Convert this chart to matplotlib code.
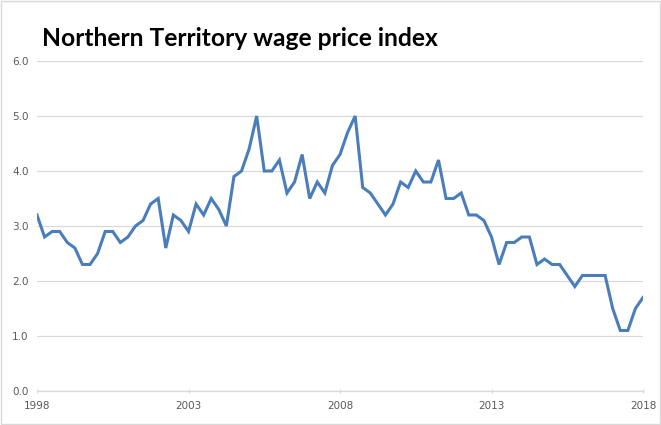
import numpy as np
import matplotlib
matplotlib.use("Agg")
import matplotlib.pyplot as plt
from matplotlib.patches import Rectangle

# quarterly values, 1998 Q1 .. 2018 Q1
wpi = [3.2, 2.8, 2.9, 2.9,
       2.7, 2.6, 2.3, 2.3,
       2.5, 2.9, 2.9, 2.7,
       2.8, 3.0, 3.1, 3.4,
       3.5, 2.6, 3.2, 3.1,
       2.9, 3.4, 3.2, 3.5,
       3.3, 3.0, 3.9, 4.0,
       4.4, 5.0, 4.0, 4.0,
       4.2, 3.6, 3.8, 4.3,
       3.5, 3.8, 3.6, 4.1,
       4.3, 4.7, 5.0, 3.7,
       3.6, 3.4, 3.2, 3.4,
       3.8, 3.7, 4.0, 3.8,
       3.8, 4.2, 3.5, 3.5,
       3.6, 3.2, 3.2, 3.1,
       2.8, 2.3, 2.7, 2.7,
       2.8, 2.8, 2.3, 2.4,
       2.3, 2.3, 2.1, 1.9,
       2.1, 2.1, 2.1, 2.1,
       1.5, 1.1, 1.1, 1.5,
       1.7]
year_labels = ["1998", "2003", "2008", "2013", "2018"]
y_ticks = [0.0, 1.0, 2.0, 3.0, 4.0, 5.0, 6.0]

idx = np.arange(len(wpi))

fig = plt.figure(figsize=(6.61, 4.25), dpi=100)
ax = fig.add_axes([37 / 661, 1 - 391 / 425, 606 / 661, 330 / 425])

ax.plot(idx, wpi, color="#4A7EBB", lw=2.2, solid_joinstyle="miter")

ax.set_xlim(0, len(wpi) - 1)
ax.set_ylim(0, 6)
ax.set_yticks(y_ticks)
ax.set_yticklabels([f"{v:.1f}" for v in y_ticks])
ax.set_xticks(idx[::20])
ax.set_xticklabels(year_labels)

ax.grid(axis="y", color="#D9D9D9", lw=0.9)
ax.set_axisbelow(True)
for s in ["top", "right", "left"]:
    ax.spines[s].set_visible(False)
ax.spines["bottom"].set_color("#D9D9D9")
ax.spines["bottom"].set_linewidth(0.9)
ax.tick_params(axis="y", length=0, pad=6, labelsize=7.5, labelcolor="#595959")
ax.tick_params(axis="x", length=3, direction="inout", color="#D9D9D9",
               labelsize=7.5, labelcolor="#595959", pad=6)

fig.text(42 / 661, 1 - 38 / 425, "Northern Territory wage price index",
         fontsize=17.7, fontweight="bold", family="Lato", va="center", ha="left")

fig.patches.append(Rectangle((0.002, 0.002), 0.996, 0.996, transform=fig.transFigure,
                             fill=False, ec="#D9D9D9", lw=1))

fig.savefig("out.png", dpi=100)
